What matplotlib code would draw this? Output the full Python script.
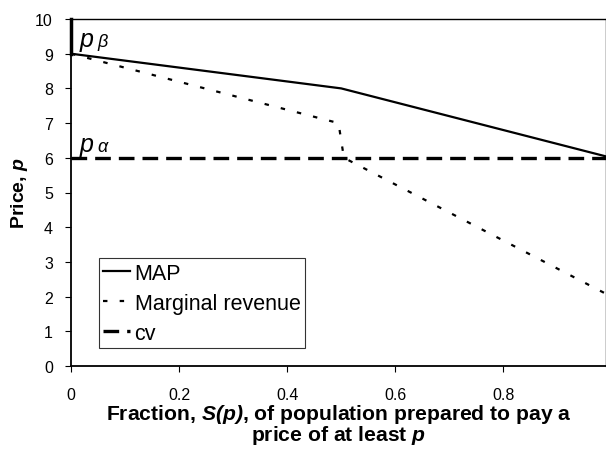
import matplotlib
matplotlib.use("Agg")
import matplotlib.pyplot as plt

plt.rcParams['font.family'] = ['Liberation Sans', 'DejaVu Sans']
plt.rcParams['mathtext.fontset'] = 'custom'
plt.rcParams['mathtext.rm'] = 'Liberation Sans'
plt.rcParams['mathtext.it'] = 'Liberation Sans:italic'
plt.rcParams['mathtext.bf'] = 'Liberation Sans:bold'
plt.rcParams['mathtext.bfit'] = 'Liberation Sans:italic:bold'

map_x = [0.0, 0.5, 0.99]
map_y = [9.0, 8.0, 6.04]
mr_x = [0.0, 0.495, 0.505, 0.99]
mr_y = [9.0, 7.0, 6.0, 2.08]
cv_x = [0.0, 0.99]
cv_y = [6.0, 6.0]
xticks = [0, 0.2, 0.4, 0.6, 0.8]
xticklabels = ["0", "0.2", "0.4", "0.6", "0.8"]
yticks = list(range(0, 11))

fig = plt.figure(figsize=(6.06, 4.52), dpi=100)
ax = fig.add_axes([71/606, 1-367/452, (606-71)/606, (367-20)/452])

ax.plot(map_x, map_y, color='black', lw=1.6, label='MAP')
ax.plot(mr_x, mr_y, color='black', lw=1.6, ls=(0, (2, 5.5)), label='Marginal revenue')
ax.plot(cv_x, cv_y, color='black', lw=2.4, ls=(0, (4.7, 2.4)), label='cv')

ax.set_xlim(0, 0.99)
ax.set_ylim(0, 10)
ax.set_xticks(xticks)
ax.set_xticklabels(xticklabels)
ax.set_yticks(yticks)
ax.tick_params(labelsize=11.5, length=4, direction='out')
ax.tick_params(axis='x', pad=11)
ax.tick_params(axis='y', pad=9)
for s in ax.spines.values():
    s.set_linewidth(1.0)
ax.spines['left'].set_linewidth(1.3)
ax.spines['bottom'].set_linewidth(1.3)
ax.plot([0, 0], [9, 10], color='black', lw=2.5, clip_on=False)

ax.text(0.016, 9.22, 'p', fontsize=18, style='italic')
ax.text(0.048, 9.22, 'β', fontsize=13, style='italic')
ax.text(0.016, 6.2, 'p', fontsize=18, style='italic')
ax.text(0.048, 6.2, 'α', fontsize=13, style='italic')

ax.set_xlabel(r'Fraction, $\mathbfit{S(p)}$, of population prepared to pay a' + '\n' + r'price of at least $\mathbfit{p}$',
              fontsize=15.2, fontweight='bold', labelpad=0, linespacing=0.92)
ax.set_ylabel(r'Price, $\mathbfit{p}$', fontsize=14, fontweight='bold', labelpad=4)

leg = ax.legend(loc='lower left', bbox_to_anchor=(28/535, 18/347), fontsize=15.5, frameon=True,
                fancybox=False, edgecolor='black', handlelength=1.25, handletextpad=0.2,
                borderpad=0.2, labelspacing=0.42, borderaxespad=0)
leg.get_frame().set_linewidth(0.8)

fig.savefig('out.png', dpi=100)
